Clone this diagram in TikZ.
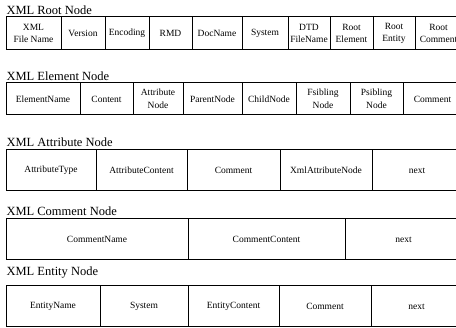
\documentclass[tikz,border=0pt]{standalone}
\usepackage{fontspec}
\setmainfont{Liberation Serif}

\tikzset{every picture/.style={line width=1pt}}
\tikzset{
  cell/.style={draw, anchor=north west, inner sep=0.75pt, outer sep=0pt, align=center,
    font=\fontsize{9.5}{12.5}\selectfont},
  rowtitle/.style={anchor=base west, inner sep=0pt, font=\fontsize{12.5}{14}\selectfont}
}

\begin{document}
\begin{tikzpicture}[x=1pt,y=1pt,yscale=-1,xscale=1]
\useasboundingbox (0,0) rectangle (456,328);

% Root node row
\node [rowtitle] (rootTitle) at (6,15) {XML Root Node};
\node [cell, minimum width=55pt, minimum height=33pt] (rootFile) at (6,17) {XML\\File Name};
\node [cell, minimum width=44pt, minimum height=33pt] (rootVersion) at (61,17) {Version};
\node [cell, minimum width=44pt, minimum height=33pt] (rootEncoding) at (105,17) {Encoding};
\node [cell, minimum width=43pt, minimum height=33pt] (rootRmd) at (149,17) {RMD};
\node [cell, minimum width=50pt, minimum height=33pt] (rootDoc) at (192,17) {DocName};
\node [cell, minimum width=46pt, minimum height=33pt] (rootSystem) at (242,17) {System};
\node [cell, minimum width=42pt, minimum height=33pt] (rootDtd) at (288,17) {DTD\\FileName};
\node [cell, minimum width=43pt, minimum height=33pt] (rootElement) at (330,17) {Root\\Element};
\node [cell, minimum width=42pt, minimum height=33pt] (rootEntity) at (373,17) {Root\\Entity};
\node [cell, minimum width=47pt, minimum height=33pt] (rootComment) at (415,17) {Root\\Comment};

% Element node row
\node [rowtitle] (elemTitle) at (6,81) {XML Element Node};
\node [cell, minimum width=74pt, minimum height=32pt] (elemName) at (6,83) {ElementName};
\node [cell, minimum width=53pt, minimum height=32pt] (elemContent) at (80,83) {Content};
\node [cell, minimum width=50pt, minimum height=32pt] (elemAttr) at (133,83) {Attribute\\Node};
\node [cell, minimum width=59pt, minimum height=32pt] (elemParent) at (183,83) {ParentNode};
\node [cell, minimum width=54pt, minimum height=32pt] (elemChild) at (242,83) {ChildNode};
\node [cell, minimum width=54pt, minimum height=32pt] (elemFsib) at (296,83) {Fsibling\\Node};
\node [cell, minimum width=53pt, minimum height=32pt] (elemPsib) at (350,83) {Psibling\\Node};
\node [cell, minimum width=59pt, minimum height=32pt] (elemComment) at (403,83) {Comment};

% Attribute node row
\node [rowtitle] (attrTitle) at (6,147) {XML Attribute Node};
\node [cell, minimum width=90pt, minimum height=41pt] (attrType) at (6,150) {AttributeType};
\node [cell, minimum width=91pt, minimum height=41pt] (attrContent) at (96,150) {AttributeContent};
\node [cell, minimum width=93pt, minimum height=41pt] (attrComment) at (187,150) {Comment};
\node [cell, minimum width=92pt, minimum height=41pt] (attrXml) at (280,150) {XmlAttributeNode};
\node [cell, minimum width=90pt, minimum height=41pt] (attrNext) at (372,150) {next};

% Comment node row
\node [rowtitle] (commTitle) at (6,216) {XML Comment Node};
\node [cell, minimum width=182pt, minimum height=41pt] (commName) at (6,219) {CommentName};
\node [cell, minimum width=157pt, minimum height=41pt] (commContent) at (188,219) {CommentContent};
\node [cell, minimum width=117pt, minimum height=41pt] (commNext) at (345,219) {next};

% Entity node row
\node [rowtitle] (entTitle) at (6,276) {XML Entity Node};
\node [cell, minimum width=94pt, minimum height=41pt] (entName) at (6,286) {EntityName};
\node [cell, minimum width=88pt, minimum height=41pt] (entSystem) at (100,286) {System};
\node [cell, minimum width=91pt, minimum height=41pt] (entContent) at (188,286) {EntityContent};
\node [cell, minimum width=92pt, minimum height=41pt] (entComment) at (279,286) {Comment};
\node [cell, minimum width=91pt, minimum height=41pt] (entNext) at (371,286) {next};

\end{tikzpicture}
\end{document}
